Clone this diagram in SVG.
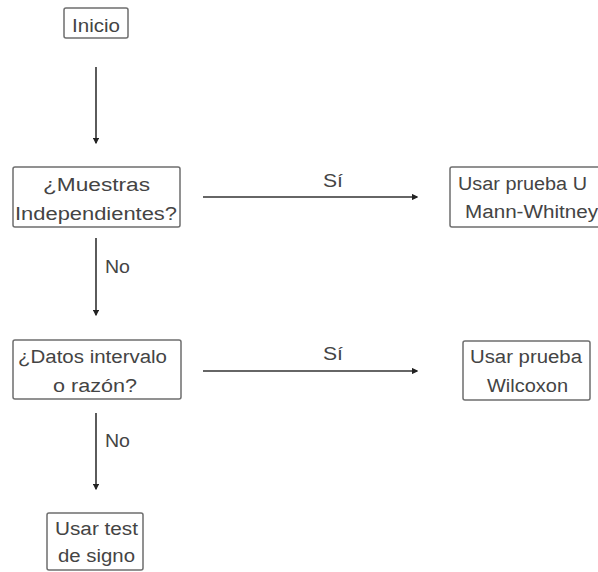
<svg xmlns="http://www.w3.org/2000/svg" width="598" height="572" viewBox="0 0 598 572">
  <style>
    .box { fill: #ffffff; stroke: #6e6e6e; stroke-width: 1.5; }
    .lbl { font-family: "Liberation Sans", Arial, sans-serif; font-size: 18px; fill: #444444; }
    .edge { fill: none; stroke: #333333; stroke-width: 1.6; marker-end: url(#head); }
  </style>
  <defs>
    <marker id="head" viewBox="0 0 10 10" refX="8" refY="5" markerWidth="4" markerHeight="4" orient="auto" markerUnits="strokeWidth">
      <path d="M0,0 L10,5 L0,10 Z" fill="#222222"/>
    </marker>
  </defs>
  <rect width="598" height="572" fill="#ffffff"/>

  <g id="connectors">
    <path class="edge" d="M96,67 V143"/>
    <path class="edge" d="M96,238 V315"/>
    <path class="edge" d="M96,413 V489"/>
    <path class="edge" d="M203,197 H417"/>
    <path class="edge" d="M203,371 H417"/>
    <text class="lbl" x="105" y="273" textLength="25" lengthAdjust="spacingAndGlyphs">No</text>
    <text class="lbl" x="105" y="447" textLength="25" lengthAdjust="spacingAndGlyphs">No</text>
    <text class="lbl" x="323" y="187" textLength="20" lengthAdjust="spacingAndGlyphs">Sí</text>
    <text class="lbl" x="323" y="360" textLength="20" lengthAdjust="spacingAndGlyphs">Sí</text>
  </g>

  <g id="inicio">
    <rect class="box" x="64" y="8" width="64" height="30" rx="2"/>
    <text class="lbl" x="72" y="32" textLength="48" lengthAdjust="spacingAndGlyphs">Inicio</text>
  </g>

  <g id="muestras">
    <rect class="box" x="13" y="167" width="167" height="60" rx="2"/>
    <text class="lbl" x="43" y="191" textLength="107" lengthAdjust="spacingAndGlyphs">¿Muestras</text>
    <text class="lbl" x="15" y="220" textLength="162" lengthAdjust="spacingAndGlyphs">Independientes?</text>
  </g>

  <g id="mann-whitney">
    <rect class="box" x="450" y="167" width="160" height="60" rx="2"/>
    <text class="lbl" x="458" y="190" textLength="129" lengthAdjust="spacingAndGlyphs">Usar prueba U</text>
    <text class="lbl" x="465" y="218" textLength="133" lengthAdjust="spacingAndGlyphs">Mann-Whitney</text>
  </g>

  <g id="datos">
    <rect class="box" x="13" y="340" width="168" height="59" rx="2"/>
    <text class="lbl" x="18" y="363" textLength="149" lengthAdjust="spacingAndGlyphs">¿Datos intervalo</text>
    <text class="lbl" x="53" y="392" textLength="84" lengthAdjust="spacingAndGlyphs">o razón?</text>
  </g>

  <g id="wilcoxon">
    <rect class="box" x="463" y="341" width="127" height="59" rx="2"/>
    <text class="lbl" x="470" y="363" textLength="112" lengthAdjust="spacingAndGlyphs">Usar prueba</text>
    <text class="lbl" x="487" y="392" textLength="81" lengthAdjust="spacingAndGlyphs">Wilcoxon</text>
  </g>

  <g id="signo">
    <rect class="box" x="47" y="513" width="96" height="57" rx="2"/>
    <text class="lbl" x="55" y="535" textLength="83" lengthAdjust="spacingAndGlyphs">Usar test</text>
    <text class="lbl" x="58" y="562" textLength="77" lengthAdjust="spacingAndGlyphs">de signo</text>
  </g>
</svg>
